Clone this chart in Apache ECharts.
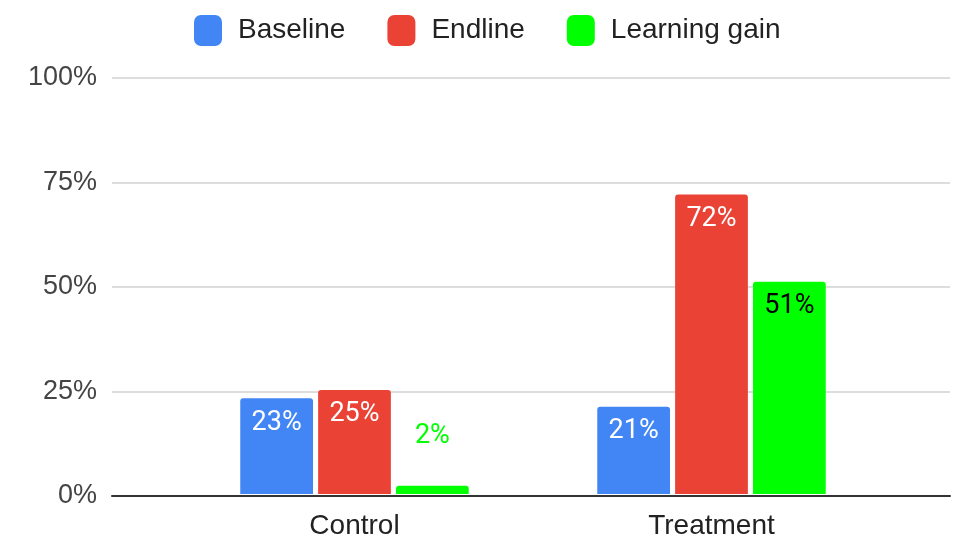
<!DOCTYPE html>
<html><head><meta charset="utf-8">
<script src="https://cdn.jsdelivr.net/npm/echarts@6/dist/echarts.min.js"></script>
<style>html,body{margin:0;padding:0;background:#fff}#c{width:964px;height:540px}</style>
</head><body><div id="c"></div>
<script>
const categories = ['Control', 'Treatment'];
const baseline = [23, 21];
const endline = [25, 72];
const gain = [2, 51];
const seriesNames = ['Baseline', 'Endline', 'Learning gain'];
const yTicks = [0, 25, 50, 75, 100];

const colors = ['#4285F4', '#EA4335', '#00FF00'];
const insideColors = ['#ffffff', '#ffffff', '#000000'];
const outsideColors = ['#4285F4', '#EA4335', '#00FF00'];
const AX_FONT = "'Liberation Sans', Arial, sans-serif";

function mkSeries(name, vals, i) {
  return {
    name: name, type: 'bar', xAxisIndex: 1, yAxisIndex: 1,
    barGap: '7%', barCategoryGap: '36%',
    itemStyle: { color: colors[i], borderRadius: [3, 3, 0, 0] },
    data: vals.map(v => v < 8 ? {
      value: v,
      label: { position: 'top', distance: 36, color: outsideColors[i] }
    } : v),
    label: {
      show: true, position: 'insideTop', distance: 11,
      color: insideColors[i], fontFamily: 'Roboto', fontSize: 27, fontWeight: 'normal',
      formatter: p => p.value + '%'
    }
  };
}

const chart = echarts.init(document.getElementById('c'));
chart.setOption({
  animation: false,
  legend: {
    top: 10, left: 189,
    itemWidth: 28, itemHeight: 31, itemGap: 42,
    icon: 'roundRect',
    textStyle: { fontFamily: AX_FONT, fontSize: 28, color: '#222', padding: [0, 0, 0, 11] },
    data: seriesNames
  },
  grid: [
    { left: 112, right: 14, top: 78, bottom: 44 },
    { left: 176, right: 74, top: 78, bottom: 44 }
  ],
  xAxis: [
    { type: 'category', gridIndex: 0, data: categories, show: true,
      axisLine: { show: true, lineStyle: { color: '#333', width: 2 } },
      axisTick: { show: false }, axisLabel: { show: false } },
    { type: 'category', gridIndex: 1, data: categories,
      axisLine: { show: false }, axisTick: { show: false },
      axisLabel: { fontFamily: AX_FONT, fontSize: 28, color: '#222', margin: 18 } }
  ],
  yAxis: [
    { type: 'value', gridIndex: 0, min: yTicks[0], max: yTicks[yTicks.length - 1], interval: 25,
      axisLine: { show: false }, axisTick: { show: false },
      splitLine: { lineStyle: { color: '#dddddd', width: 2 } },
      axisLabel: { fontFamily: AX_FONT, fontSize: 27, color: '#444', margin: 15,
        formatter: '{value}%' } },
    { type: 'value', gridIndex: 1, min: 0, max: 100, interval: 25, show: false,
      splitLine: { show: false } }
  ],
  series: [
    mkSeries(seriesNames[0], baseline, 0),
    mkSeries(seriesNames[1], endline, 1),
    mkSeries(seriesNames[2], gain, 2)
  ]
});
</script></body></html>
